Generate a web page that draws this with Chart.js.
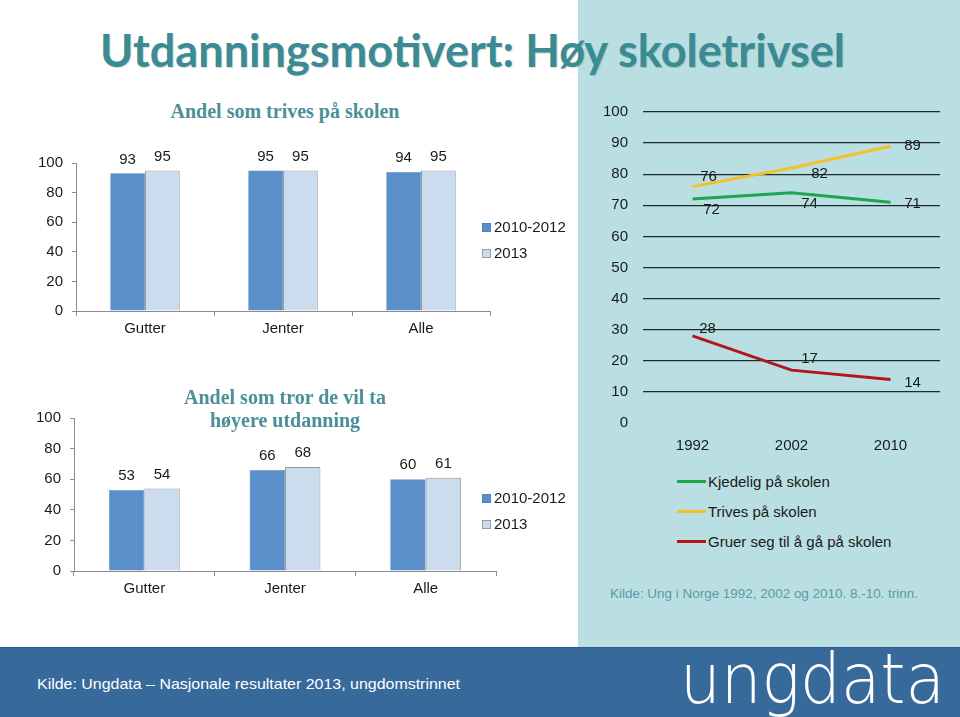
<!DOCTYPE html>
<html>
<head>
<meta charset="utf-8">
<script src="https://cdn.jsdelivr.net/npm/chart.js@4/dist/chart.umd.min.js"></script>
<style>
  html, body { margin: 0; padding: 0; }
  body { width: 960px; height: 717px; position: relative; overflow: hidden; background: #fff;
         font-family: "Liberation Sans", Arial, sans-serif; }
  .abs { position: absolute; white-space: nowrap; }
  #panel { left: 578px; top: 0; width: 382px; height: 647px; background: #badfe3; }
  #footer { left: 0; top: 647px; width: 960px; height: 70px; background: #376a9a; border-top: 1px solid #2c5d8b; box-sizing: border-box; }
  #title { left: 100px; top: 22px; font-family: Lato, "Open Sans", sans-serif; font-weight: bold; font-size: 46px;
           color: #3a8b93; transform-origin: left top; text-shadow: 1px 1px 1px rgba(0,0,0,0.15); line-height: 56px; }
  .ctitle { font-family: "Liberation Serif", "DejaVu Serif", serif; font-weight: bold; font-size: 20px; color: #4b8f99;
            text-align: center; width: 300px; left: 135px; line-height: 23px; }
  canvas { position: absolute; }
  .leg { font-size: 15px; color: #1a1a1a; line-height: 18px; }
  .sq { display: inline-block; width: 9px; height: 9px; margin-right: 3px; box-sizing: border-box; vertical-align: 0px; }
  .ln { display: inline-block; width: 29px; height: 3px; margin-right: 2px; vertical-align: 4px; }
  #src { left: 610px; top: 587px; font-size: 12.5px; color: #5a9aa3; transform-origin: left top; }
  #kilde { left: 37px; top: 675px; font-size: 15px; color: #fff; transform-origin: left top; }
  #logo { left: 680px; top: 639px; font-family: "DejaVu Sans", sans-serif; font-weight: 200; font-size: 70px;
          color: #fff; transform-origin: left top; line-height: 80px; }
</style>
</head>
<body>
<div id="panel" class="abs"></div>
<div id="footer" class="abs"></div>
<div id="title" class="abs">Utdanningsmotivert: Høy skoletrivsel</div>

<div class="abs ctitle" style="top:100px">Andel som trives på skolen</div>
<canvas id="bar1" width="578" height="195" style="left:0;top:150px"></canvas>
<div id="leg1" class="abs leg" style="left:482px;top:218px"></div>

<canvas id="bar2" width="578" height="210" style="left:0;top:400px"></canvas>
<div class="abs ctitle" style="top:386px">Andel som tror de vil ta<br>høyere utdanning</div>
<div id="leg2" class="abs leg" style="left:482px;top:489px"></div>

<canvas id="line1" width="382" height="365" style="left:578px;top:95px"></canvas>
<div id="leg3" class="abs leg" style="left:677px;top:473px"></div>
<div id="src" class="abs">Kilde: Ung i Norge 1992, 2002 og 2010. 8.-10. trinn.</div>

<div id="kilde" class="abs">Kilde: Ungdata – Nasjonale resultater 2013, ungdomstrinnet</div>
<div id="logo" class="abs">ungdata</div>

<script>
const barCategories = ["Gutter", "Jenter", "Alle"];
const barSeries = ["2010-2012", "2013"];
const trivesOld = [93, 95, 94];
const trivesNew = [95, 95, 95];
const hoyereOld = [53, 66, 60];
const hoyereNew = [54, 68, 61];

const years = ["1992", "2002", "2010"];
const lineSeries = ["Kjedelig på skolen", "Trives på skolen", "Gruer seg til å gå på skolen"];
const kjedelig = [72, 74, 71];
const trives = [76, 82, 89];
const gruer = [28, 17, 14];

const FONT = "'Liberation Sans', Arial, sans-serif";
const barColors = ["#5b8fc9", "#cadcee"];
const barBorders = ["#4f83bd", "#9b9b9b"];
const lineColors = ["#1fa44f", "#f3c22b", "#b3151b"];

// label offsets for the line chart, per series and point
const lineLabelOffsets = [
    [[19, 11], [18, 11], [22, 2]],
    [[16, -10], [28, 6], [22, 0]],
    [[15, -7], [18, -11], [22, 3]],
];

const valueLabels = {
    id: "valueLabels",
    afterDatasetsDraw(chart, args, opts) {
        const ctx = chart.ctx;
        ctx.save();
        ctx.font = "15px " + FONT;
        ctx.fillStyle = "#1a1a1a";
        ctx.textAlign = "center";
        ctx.textBaseline = "middle";
        chart.data.datasets.forEach((ds, i) => {
            chart.getDatasetMeta(i).data.forEach((el, j) => {
                const off = opts.offsets ? opts.offsets[i][j] : [0, -14];
                ctx.fillText(ds.data[j], el.x + off[0], el.y + off[1]);
            });
        });
        ctx.restore();
    },
};

// pin the plot box: no extra room for half tick labels
function fixY(w) {
    return (s) => { s.width = w; s.paddingTop = 0; s.paddingBottom = 0; };
}
function fixX(h) {
    return (s) => { s.height = h; s.paddingLeft = 0; s.paddingRight = 0; };
}

function makeBarConfig(oldVals, newVals, area) {
    return {
        type: "bar",
        data: {
            labels: barCategories,
            datasets: [oldVals, newVals].map((d, i) => ({
                label: barSeries[i],
                data: d,
                backgroundColor: barColors[i],
                borderColor: barBorders[i],
                borderWidth: i ? 1 : 0.6,
                categoryPercentage: 0.504,
                barPercentage: 1.0,
            })),
        },
        options: {
            responsive: false,
            animation: false,
            layout: { padding: { top: area.top, right: area.right, left: 0, bottom: 0 } },
            plugins: { legend: { display: false }, tooltip: { enabled: false }, valueLabels: {} },
            scales: {
                x: {
                    grid: { drawOnChartArea: false, color: "#8c8c8c", tickLength: 5, offset: true },
                    border: { color: "#8c8c8c" },
                    ticks: { color: "#1a1a1a", font: { size: 15, family: FONT }, padding: 4 },
                    afterFit: fixX(area.xh),
                },
                y: {
                    min: 0, max: 100,
                    ticks: { stepSize: 20, color: "#1a1a1a", font: { size: 15, family: FONT }, padding: 9 },
                    grid: { drawOnChartArea: false, color: "#8c8c8c", tickLength: 4 },
                    border: { color: "#8c8c8c" },
                    afterFit: fixY(area.left),
                },
            },
        },
        plugins: [valueLabels],
    };
}

function barLegend(id) {
    document.getElementById(id).innerHTML = barSeries.map((n, i) =>
        `<div style="height:26px"><span class="sq" style="background:${barColors[i]};border:1px solid ${barBorders[i]}"></span>${n}</div>`
    ).join("");
}

new Chart(document.getElementById("bar1"),
    makeBarConfig(trivesOld, trivesNew, { top: 13, right: 88, left: 76, xh: 34 }));
new Chart(document.getElementById("bar2"),
    makeBarConfig(hoyereOld, hoyereNew, { top: 18, right: 82, left: 74, xh: 39 }));
barLegend("leg1");
barLegend("leg2");

new Chart(document.getElementById("line1"), {
    type: "line",
    data: {
        labels: years,
        datasets: [kjedelig, trives, gruer].map((d, i) => ({
            label: lineSeries[i],
            data: d,
            borderColor: lineColors[i],
            borderWidth: 3,
            pointRadius: 0,
            tension: 0,
        })),
    },
    options: {
        responsive: false,
        animation: false,
        layout: { padding: { top: 17, right: 20, left: 0, bottom: 0 } },
        plugins: { legend: { display: false }, tooltip: { enabled: false },
                   valueLabels: { offsets: lineLabelOffsets } },
        scales: {
            x: {
                offset: true,
                grid: { display: false },
                border: { display: false },
                ticks: { color: "#1a1a1a", font: { size: 15, family: FONT }, padding: 6 },
                afterFit: fixX(37),
            },
            y: {
                min: 0, max: 100,
                ticks: { stepSize: 10, color: "#1a1a1a", font: { size: 15, family: FONT }, padding: 15 },
                grid: { drawTicks: false, lineWidth: 1.2,
                        color: (c) => (c.tick && c.tick.value === 0 ? "rgba(0,0,0,0)" : "#1e2a2c") },
                border: { display: false },
                afterFit: fixY(65),
            },
        },
    },
    plugins: [valueLabels],
});

document.getElementById("leg3").innerHTML = lineSeries.map((n, i) =>
    `<div style="height:30px"><span class="ln" style="background:${lineColors[i]}"></span>${n}</div>`
).join("");

function fitWidth(id, w) {
    const el = document.getElementById(id);
    const cur = el.getBoundingClientRect().width;
    el.style.transform = `scaleX(${w / cur})`;
}
fitWidth("title", 745);
fitWidth("kilde", 423);
fitWidth("src", 308);
fitWidth("logo", 265);
</script>
</body>
</html>
